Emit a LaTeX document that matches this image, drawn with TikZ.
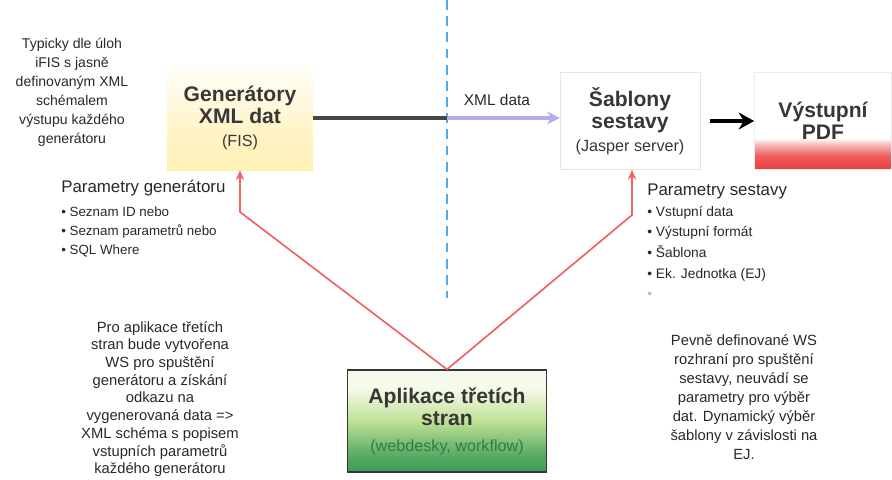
\documentclass[tikz,border=0pt]{standalone}
\usepackage{fontspec}
\setmainfont{Liberation Sans}
\usepackage{xcolor}
\usepackage{tikz}
\usetikzlibrary{
  arrows.meta,
  positioning
}
\definecolor{TextGray}{RGB}{40, 40, 40}
\definecolor{TitleGray}{RGB}{55, 55, 55}
\definecolor{GenYellow}{RGB}{255, 240, 180}
\definecolor{ArrowRed}{RGB}{238, 100, 100}
\definecolor{SplitBlue}{RGB}{80, 170, 238}
\definecolor{XmlLavender}{RGB}{185, 170, 240}
\definecolor{LineDark}{RGB}{70, 70, 70}
\definecolor{AppGreen}{RGB}{60, 155, 85}
\definecolor{AppMid}{RGB}{190, 225, 150}
\definecolor{AppLight}{RGB}{246, 250, 234}
\definecolor{PdfRed}{RGB}{236, 62, 62}
\definecolor{WebGreen}{RGB}{45, 125, 70}
\pgfdeclareverticalshading{genshade}{100bp}{color(0bp)=(GenYellow); color(25bp)=(GenYellow); color(45bp)=(GenYellow!70); color(75bp)=(GenYellow!10); color(100bp)=(GenYellow!10)}
\pgfdeclareverticalshading{pdfshade}{100bp}{color(0bp)=(PdfRed); color(25bp)=(PdfRed); color(32bp)=(PdfRed!85); color(38bp)=(PdfRed!35); color(41bp)=(white); color(100bp)=(white)}
\pgfdeclareverticalshading{appshade}{100bp}{color(0bp)=(AppGreen); color(25bp)=(AppGreen); color(34bp)=(AppGreen!75!AppMid); color(50bp)=(AppMid); color(66bp)=(AppLight); color(100bp)=(AppLight)}
\tikzset{
  note/.style={align=center, text=TextGray, font=\fontsize{10.5}{13.5}\selectfont},
  titlebox/.style={rectangle, align=center, text=TitleGray, inner sep=0pt, font=\fontsize{15}{15.6}\selectfont\bfseries},
  params/.style={align=left, anchor=north west, text=TextGray, inner sep=0pt},
  callarrow/.style={draw=ArrowRed, line width=1.2pt, -{Stealth[length=7pt, width=6pt]}},
  dashline/.style={draw=SplitBlue, line width=1.5pt, dash pattern=on 7pt off 4.5pt},
}
\newcommand{\subtitlefont}{\fontsize{11.5}{12}\selectfont\mdseries}

\begin{document}
\begin{tikzpicture}[x=0.025cm, y=-0.025cm]
\useasboundingbox (0,0) rectangle (892,479);

\node[note, font=\fontsize{10}{13.5}\selectfont] (typnote) at (72,92) {Typicky dle úloh\\iFIS s jasně\\definovaným XML\\schémalem\\výstupu každého\\generátoru};

\node[titlebox, shading=genshade, minimum width=104pt, minimum height=74pt] (gen) at (240,118) {Generátory\\XML dat\\[1pt]{\subtitlefont (FIS)}};
\node[titlebox, fill=white, draw=gray!20, minimum width=99.5pt, minimum height=69pt] (sab) at (630,121) {Šablony\\sestavy\\[1pt]{\subtitlefont (Jasper server)}};
\node[titlebox, shading=pdfshade, draw=gray!15, minimum width=97.5pt, minimum height=69pt] (pdf) at (823,121) {Výstupní\\PDF};
\node[titlebox, shading=appshade, draw=TitleGray, line width=0.9pt, minimum width=142pt, minimum height=72.5pt] (app) at (447,421) {Aplikace třetích\\stran\\[3pt]{\fontsize{11.5}{12}\selectfont\mdseries\color{WebGreen}(webdesky, workflow)}};

\coordinate (dtop) at (447,0);
\coordinate (dbot) at (447,298);
\coordinate (split) at (447,118);
\coordinate (lbend) at (240,212);
\coordinate (rbend) at (632,215);

\draw[dashline] (dtop) -- (dbot);
\draw[LineDark, line width=2.8pt] (gen.east) -- (split);
\draw[XmlLavender, line width=2.4pt, -{Stealth[length=9pt, width=9pt]}] (split) -- (split -| sab.west);
\node[text=TextGray, font=\fontsize{11}{13}\selectfont] (xmllabel) at (497,100) {XML data};
\draw[black, line width=3.4pt, shorten <=7pt, -{Stealth[length=11pt, width=12pt]}] (sab.east) -- (pdf.west);

\draw[callarrow] (app.north) -- (lbend) -- (gen.south);
\draw[callarrow] (app.north) -- (rbend) -- (rbend |- sab.south);

\node[params, font=\fontsize{9.5}{13.5}\selectfont] (pgen) at (61,180) {{\fontsize{12}{14}\selectfont Parametry generátoru}\\[3.5pt]
\textbullet\ Seznam ID nebo\\
\textbullet\ Seznam parametrů nebo\\
\textbullet\ SQL Where};

\node[params, font=\fontsize{9.8}{14.6}\selectfont] (psab) at (647,184) {{\fontsize{12}{14}\selectfont Parametry sestavy}\\
\textbullet\ Vstupní data\\
\textbullet\ Výstupní formát\\
\textbullet\ Šablona\\
\textbullet\ Ek. Jednotka (EJ)\\
{\color{gray!50}\textbullet}};

\node[note, font=\fontsize{10.5}{12.6}\selectfont] (wsnote) at (160,399) {Pro aplikace třetích\\stran bude vytvořena\\WS pro spuštění\\generátoru a získání\\odkazu na\\vygenerovaná data =>\\XML schéma s popisem\\vstupních parametrů\\každého generátoru};

\node[note] (ejnote) at (744,397) {Pevně definované WS\\rozhraní pro spuštění\\sestavy, neuvádí se\\parametry pro výběr\\dat. Dynamický výběr\\šablony v závislosti na\\EJ.};
\end{tikzpicture}
\end{document}
